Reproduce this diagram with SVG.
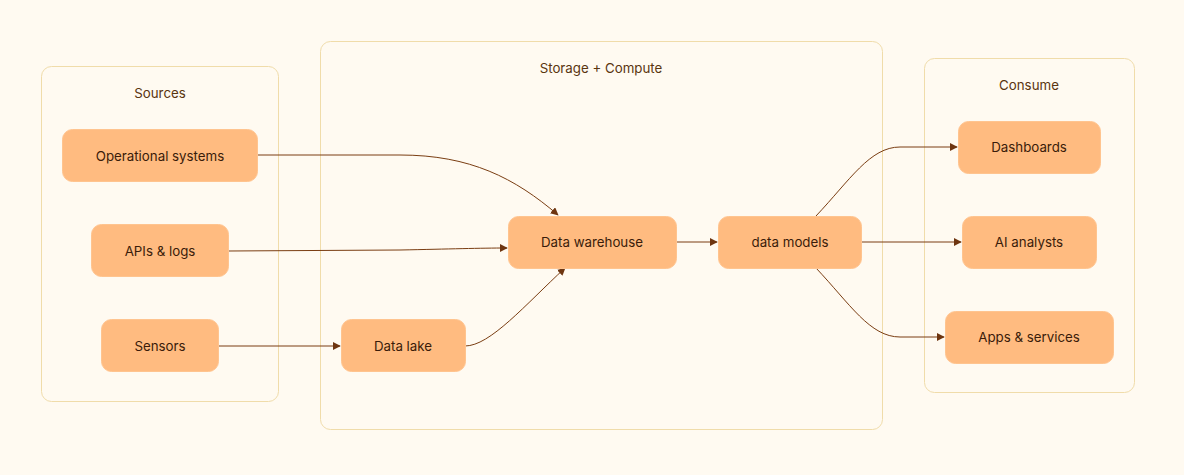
<svg xmlns="http://www.w3.org/2000/svg" width="1184" height="475" viewBox="0 0 1184 475">
<defs>
<style>
.cl{fill:#fffaf1;stroke:#f0dcaa;stroke-width:1}
.cll{font-family:Inter,"Liberation Sans",sans-serif;font-size:13.3px;fill:#5a3510;text-anchor:middle}
.nd rect{fill:#ffbb80;stroke:#ffc48f;stroke-width:1}
.nd text{font-family:Inter,"Liberation Sans",sans-serif;font-size:13.3px;fill:#3a1c0a;text-anchor:middle;dominant-baseline:central}
.e{fill:none;stroke:#7a3d12;stroke-width:1}
</style>
<marker id="ah" viewBox="0 0 10 10" refX="9" refY="5" markerWidth="8" markerHeight="8" orient="auto" markerUnits="userSpaceOnUse">
<path d="M0,0 L10,5 L0,10 z" fill="#6e3510"/>
</marker>
</defs>
<rect width="1184" height="475" fill="#fffaf1"/>
<g id="cluster-sources"><rect class="cl" x="41.5" y="66.5" width="237" height="335" rx="10"/><text class="cll" x="160" y="98">Sources</text></g>
<g id="cluster-storage"><rect class="cl" x="320.5" y="41.5" width="562" height="388" rx="10"/><text class="cll" x="601" y="73">Storage + Compute</text></g>
<g id="cluster-consume"><rect class="cl" x="924.5" y="58.5" width="210" height="334" rx="10"/><text class="cll" x="1029" y="90">Consume</text></g>
<g id="edges">
<path class="e" marker-end="url(#ah)" d="M258,155 L400,155 C470,155 515,178 558,215"/>
<path class="e" marker-end="url(#ah)" d="M228,251 L400,250 C450,249 480,248 507,248"/>
<path class="e" marker-end="url(#ah)" d="M218,346 L340,346"/>
<path class="e" marker-end="url(#ah)" d="M465,346 C490,346 525,305 565,268"/>
<path class="e" marker-end="url(#ah)" d="M676,242 L717,242"/>
<path class="e" marker-end="url(#ah)" d="M816,216 C850,180 870,147 900,147 L957,147"/>
<path class="e" marker-end="url(#ah)" d="M861,242 L961,242"/>
<path class="e" marker-end="url(#ah)" d="M816,268 C850,304 870,337 900,337 L944,337"/>
</g>
<g id="node-ops" class="nd"><rect x="62.5" y="129.5" width="195" height="52" rx="10"/><text x="160" y="156">Operational systems</text></g>
<g id="node-apis" class="nd"><rect x="91.5" y="224.5" width="137" height="52" rx="10"/><text x="160" y="251">APIs &amp; logs</text></g>
<g id="node-sensors" class="nd"><rect x="101.5" y="319.5" width="117" height="52" rx="10"/><text x="160" y="346">Sensors</text></g>
<g id="node-dw" class="nd"><rect x="508.5" y="216.5" width="168" height="52" rx="10"/><text x="592" y="242">Data warehouse</text></g>
<g id="node-lake" class="nd"><rect x="341.5" y="319.5" width="124" height="52" rx="10"/><text x="403" y="346">Data lake</text></g>
<g id="node-models" class="nd"><rect x="718.5" y="216.5" width="143" height="52" rx="10"/><text x="790" y="242">data models</text></g>
<g id="node-dash" class="nd"><rect x="958.5" y="121.5" width="142" height="52" rx="10"/><text x="1029" y="147">Dashboards</text></g>
<g id="node-ai" class="nd"><rect x="962.5" y="216.5" width="134" height="52" rx="10"/><text x="1029" y="242">AI analysts</text></g>
<g id="node-apps" class="nd"><rect x="945.5" y="311.5" width="168" height="52" rx="10"/><text x="1029" y="337">Apps &amp; services</text></g>
</svg>
